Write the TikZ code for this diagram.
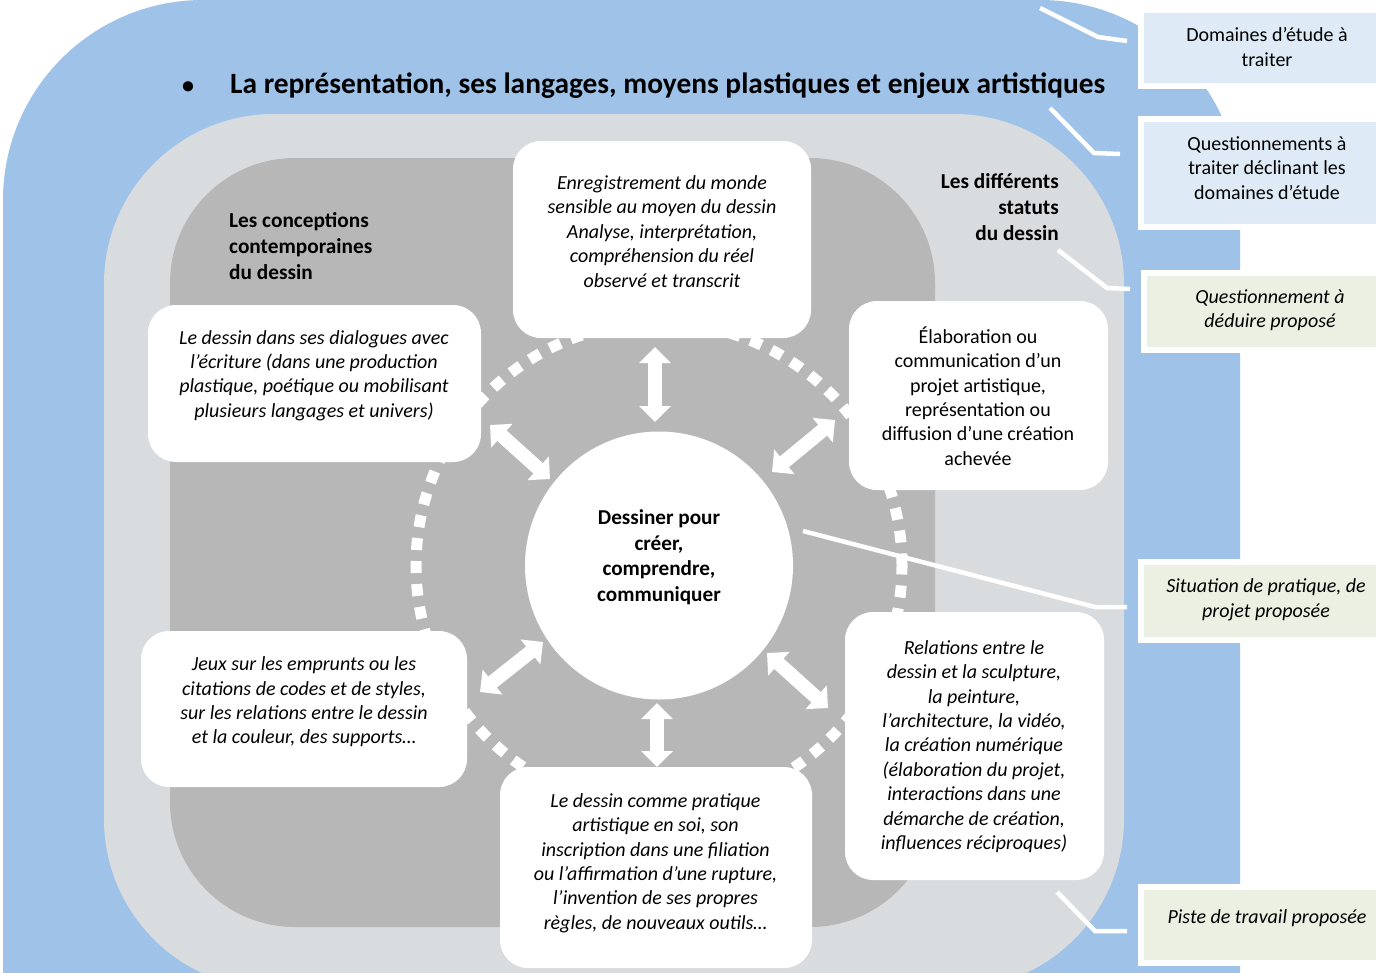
\documentclass[tikz,border=0pt]{standalone}
\usepackage{fontspec}
\setmainfont{Carlito}
\usetikzlibrary{arrows.meta}
\definecolor{bluebg}{HTML}{9FC2E8}
\definecolor{lgray}{HTML}{D9DCDF}
\definecolor{dgray}{HTML}{B7B7B7}
\definecolor{labblue}{HTML}{DEEBF7}
\definecolor{labgreen}{HTML}{EBF0E2}
\begin{document}
\begin{tikzpicture}[x=1pt,y=-1pt,
  card/.style={rectangle, rounded corners=28pt, fill=white, inner sep=0pt},
  labbox/.style={rectangle, draw=white, line width=6pt, inner sep=0pt},
  body/.style={font=\fontsize{20}{24.4}\selectfont, align=center, inner sep=0pt},
  bodyit/.style={font=\fontsize{20}{24.4}\selectfont\itshape, align=center, inner sep=0pt},
  labtxt/.style={font=\fontsize{20}{24.6}\selectfont, align=center, inner sep=0pt},
  labit/.style={font=\fontsize{20}{24.6}\selectfont\itshape, align=center, inner sep=0pt},
  headtxt/.style={font=\fontsize{21.3}{26}\selectfont\bfseries, inner sep=0pt},
  dbl/.style={white, line width=14pt, line cap=butt,
    {Triangle[width=31pt,length=16pt]}-{Triangle[width=31pt,length=16pt]}},
  conn/.style={white, line width=4.5pt, line join=miter},
  dots/.style={white, line width=11pt, dash pattern=on 12pt off 11pt}
]
\useasboundingbox (0,0) rectangle (1376,972);
\clip (0,0) rectangle (1376,972);
\fill[white] (0,0) rectangle (1376,972);

% nested backgrounds
\fill[bluebg] (3,0) [rounded corners=200pt] rectangle (1240,1200);
\fill[lgray] (104,114) [rounded corners=170pt] rectangle (1124,989);
\fill[dgray] (170,158) [rounded corners=125pt] rectangle (935,927);

% dotted ring
\coordinate (cen) at (659,565.5);
\draw[dots] (cen) circle[radius=243pt];

% central circle
\node[circle, fill=white, minimum size=268pt, inner sep=0pt] (circ) at (cen) {};

% white cards
\node[card, minimum width=298pt, minimum height=197pt] (top) at (662,239.5) {};
\node[card, minimum width=333pt, minimum height=157pt] (lu) at (314.5,383.5) {};
\node[card, minimum width=259pt, minimum height=189pt] (ru) at (978.5,395.5) {};
\node[card, minimum width=326pt, minimum height=156pt] (ll) at (304,709) {};
\node[card, minimum width=259pt, minimum height=268pt] (rl) at (974.5,746) {};
\node[card, minimum width=312pt, minimum height=201pt] (bot) at (656,867.5) {};

% double arrows
\coordinate (aT1) at (655,347);  \coordinate (aT2) at (655,422);
\coordinate (aB1) at (657,703);  \coordinate (aB2) at (657,767);
\coordinate (aUL1) at (490,425); \coordinate (aUL2) at (550,479);
\coordinate (aUR1) at (835,420); \coordinate (aUR2) at (772,472);
\coordinate (aLL1) at (480,692); \coordinate (aLL2) at (543,642);
\coordinate (aLR1) at (767,653); \coordinate (aLR2) at (828,708);
\draw[dbl] (aT1) -- (aT2);
\draw[dbl] (aB1) -- (aB2);
\draw[dbl] (aUL1) -- (aUL2);
\draw[dbl] (aUR1) -- (aUR2);
\draw[dbl] (aLL1) -- (aLL2);
\draw[dbl] (aLR1) -- (aLR2);

% legend boxes
\node[labbox, fill=labblue, minimum width=254pt, minimum height=76pt] (lab1) at (1268,48) {};
\node[labbox, fill=labblue, minimum width=254pt, minimum height=108pt] (lab2) at (1268,173) {};
\node[labbox, fill=labgreen, minimum width=251pt, minimum height=77pt] (lab3) at (1269.5,311.5) {};
\node[labbox, fill=labgreen, minimum width=254pt, minimum height=78pt] (lab4) at (1268,601) {};
\node[labbox, fill=labgreen, minimum width=254pt, minimum height=76pt] (lab5) at (1268,925) {};

% connector lines
\coordinate (s1) at (1040,8);   \coordinate (k1) at (1098,37);  \coordinate (e1) at (1127,41);
\coordinate (s2) at (1050,108); \coordinate (k2) at (1094,153); \coordinate (e2) at (1120,154);
\coordinate (s3) at (1058,250); \coordinate (k3) at (1107,288); \coordinate (e3) at (1130,289);
\coordinate (s4) at (803,531);  \coordinate (k4) at (1095,607); \coordinate (e4) at (1127,607);
\coordinate (s5) at (1057,892); \coordinate (k5) at (1095,931); \coordinate (e5) at (1127,931);
\draw[conn] (s1) -- (k1) -- (e1);
\draw[conn] (s2) -- (k2) -- (e2);
\draw[conn] (s3) -- (k3) -- (e3);
\draw[conn] (s4) -- (k4) -- (e4);
\draw[conn] (s5) -- (k5) -- (e5);

% title
\node[anchor=base west, font=\fontsize{29.4}{34}\selectfont\bfseries, inner sep=0pt] (title) at (182,93)
  {\makebox[48pt][l]{\fontsize{24}{28}\selectfont •}La représentation, ses langages, moyens plastiques et enjeux artistiques};

% headings
\node[headtxt, anchor=west, align=left] (hconc) at (229,246) {Les conceptions\\contemporaines\\du dessin};
\node[headtxt, anchor=east, align=right] (hstat) at (1059,207) {Les différents\\statuts\\du dessin};

% centre text
\node[headtxt, align=center, font=\fontsize{21.2}{25.5}\selectfont\bfseries] (ctxt) at (659,557)
  {Dessiner pour\\créer,\\comprendre,\\communiquer};

% card texts
\node[bodyit] (ttop) at (662,231.5) {Enregistrement du monde\\sensible au moyen du dessin\\Analyse, interprétation,\\compréhension du réel\\observé et transcrit};
\node[bodyit] (tlu) at (314,375.5) {Le dessin dans ses dialogues avec\\l’écriture (dans une production\\plastique, poétique ou mobilisant\\plusieurs langages et univers)};
\node[body] (tru) at (978,396) {Élaboration ou\\communication d’un\\projet artistique,\\représentation ou\\diffusion d’une création\\achevée};
\node[bodyit] (tll) at (304,702) {Jeux sur les emprunts ou les\\citations de codes et de styles,\\sur les relations entre le dessin\\et la couleur, des supports…};
\node[bodyit] (trl) at (974,746.5) {Relations entre le\\dessin et la sculpture,\\la peinture,\\l’architecture, la vidéo,\\la création numérique\\(élaboration du projet,\\interactions dans une\\démarche de création,\\influences réciproques)};
\node[bodyit] (tbot) at (655.5,863) {Le dessin comme pratique\\artistique en soi, son\\inscription dans une filiation\\ou l’affirmation d’une rupture,\\l’invention de ses propres\\règles, de nouveaux outils…};

% legend texts
\node[labtxt] (l1) at (1267,47) {Domaines d’étude à\\traiter};
\node[labtxt] (l2) at (1267,168) {Questionnements à\\traiter déclinant les\\domaines d’étude};
\node[labit] (l3) at (1270,310) {Questionnement à\\déduire proposé};
\node[labit] (l4) at (1266,600) {Situation de pratique, de\\projet proposée};
\node[labit] (l5) at (1267,918) {Piste de travail proposée};
\end{tikzpicture}
\end{document}
